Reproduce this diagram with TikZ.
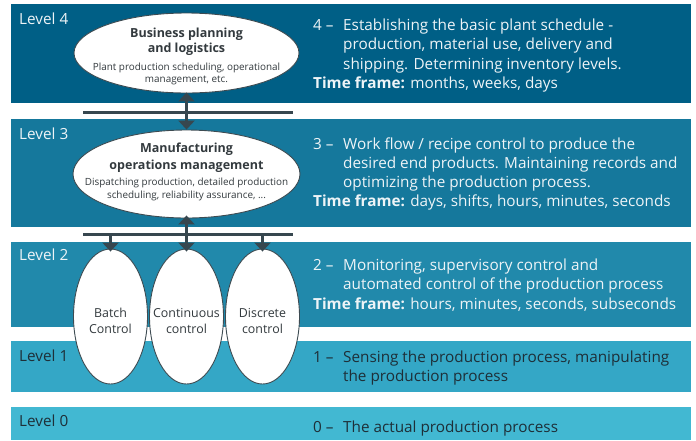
\documentclass[tikz,border=0pt]{standalone}
\usepackage{fontspec}
\setmainfont{Open Sans}
\usetikzlibrary{arrows.meta,shapes.geometric}
\definecolor{lvfour}{HTML}{005F86}
\definecolor{lvthree}{HTML}{15789C}
\definecolor{lvtwo}{HTML}{2189AB}
\definecolor{lvone}{HTML}{34A7C6}
\definecolor{lvzero}{HTML}{42B8D2}
\definecolor{connc}{HTML}{37474F}
\definecolor{ovalline}{HTML}{3D4B52}
\definecolor{lighttext}{HTML}{EEF4F7}
\definecolor{darktext}{HTML}{1E2F38}
\definecolor{ovaltext}{HTML}{333A3E}
\newcommand{\numcol}[1]{\makebox[30pt][l]{#1}}
\newcommand{\indcol}{\hspace*{30pt}}
\begin{document}
\begin{tikzpicture}[x=1pt,y=-1pt,
  lvlab/.style={anchor=base west, inner sep=0, font=\fontsize{15.3}{19.3}\selectfont},
  desc/.style={anchor=base west, inner sep=0, font=\fontsize{15.3}{19.3}\selectfont},
  oval/.style={ellipse, draw=ovalline, line width=0.9pt, fill=white, inner sep=0},
  otitle/.style={anchor=base, inner sep=0, text=ovaltext, font=\fontsize{12.5}{15.5}\selectfont\bfseries},
  osub/.style={anchor=base, inner sep=0, text=ovaltext, font=\fontsize{9.9}{12.5}\selectfont},
  otall/.style={anchor=base, inner sep=0, text=ovaltext, font=\fontsize{12.4}{16}\selectfont},
  conn/.style={draw=connc, line width=3pt},
  tipend/.style={-{Triangle[width=16pt,length=9pt]}},
  tipboth/.style={{Triangle[width=16pt,length=9pt]}-{Triangle[width=16pt,length=9pt]}}
]
\useasboundingbox (0,0) rectangle (696,440);
% bands
\fill[lvfour]  (11,4)   rectangle (691,103);
\fill[lvthree] (11,119) rectangle (691,227);
\fill[lvtwo]   (11,242) rectangle (691,327);
\fill[lvone]   (11,341) rectangle (691,392);
\fill[lvzero]  (11,407) rectangle (691,440);
% level labels
\node[lvlab, text=lighttext] (l4) at (19,24) {Level 4};
\node[lvlab, text=lighttext] (l3) at (19,139) {Level 3};
\node[lvlab, text=lighttext] (l2) at (19,260.5) {Level 2};
\node[lvlab, text=darktext]  (l1) at (19,361) {Level 1};
\node[lvlab, text=darktext]  (l0) at (19,426.5) {Level 0};
% descriptions
\node[desc, text=lighttext] (d4) at (313,30.5) {\begin{tabular}[t]{@{}l@{}}
\numcol{4 –}Establishing the basic plant schedule -\\
\indcol production, material use, delivery and\\
\indcol shipping. Determining inventory levels.\\
\textbf{Time frame:} months, weeks, days\end{tabular}};
\node[desc, text=lighttext] (d3) at (313,149) {\begin{tabular}[t]{@{}l@{}}
\numcol{3 –}Work flow / recipe control to produce the\\
\indcol desired end products. Maintaining records and\\
\indcol optimizing the production process.\\
\textbf{Time frame:} days, shifts, hours, minutes, seconds\end{tabular}};
\node[desc, text=lighttext] (d2) at (313,270.5) {\begin{tabular}[t]{@{}l@{}}
\numcol{2 –}Monitoring, supervisory control and\\
\indcol automated control of the production process\\
\textbf{Time frame:} hours, minutes, seconds, subseconds\end{tabular}};
\node[desc, text=darktext] (d1) at (313,362.5) {\begin{tabular}[t]{@{}l@{}}
\numcol{1 –}Sensing the production process, manipulating\\
\indcol the production process\end{tabular}};
\node[desc, text=darktext] (d0) at (313,432.5) {\numcol{0 –}The actual production process};
% ellipses
\node[oval, minimum width=225pt, minimum height=80pt] (e4) at (186.5,53) {};
\node[oval, minimum width=227pt, minimum height=88pt] (e3) at (186.5,174) {};
\node[oval, minimum width=74pt, minimum height=135pt] (eb) at (110.5,316.5) {};
\node[oval, minimum width=74pt, minimum height=135pt] (ec) at (186.5,316.5) {};
\node[oval, minimum width=74pt, minimum height=135pt] (ed) at (262.5,316.5) {};
% ellipse texts
\node[otitle] (t4a) at (186.5,37.7) {Business planning};
\node[otitle] (t4b) at (186.5,52.7) {and logistics};
\node[osub] (s4a) at (186.5,70) {Plant production scheduling, operational};
\node[osub] (s4b) at (186.5,82.3) {management, etc.};
\node[otitle] (t3a) at (186.5,152.3) {Manufacturing};
\node[otitle] (t3b) at (186.5,169) {operations management};
\node[osub] (s3a) at (186.5,185.7) {Dispatching production, detailed production};
\node[osub] (s3b) at (186.5,198.3) {scheduling, reliability assurance, ...};
\node[otall] (tb1) at (110.5,317.3) {Batch};
\node[otall] (tb2) at (110.5,333.3) {Control};
\node[otall] (tc1) at (186.5,317.3) {Continuous};
\node[otall] (tc2) at (186.5,333.3) {control};
\node[otall] (td1) at (262.5,317.3) {Discrete};
\node[otall] (td2) at (262.5,333.3) {control};
% connectors
\coordinate (b4l) at (83,112);
\coordinate (b4r) at (293,112);
\coordinate (b3l) at (83,234);
\coordinate (b3r) at (293,234);
\coordinate (b3a) at (110.5,234);
\coordinate (b3b) at (186.5,234);
\coordinate (b3c) at (262.5,234);
\draw[conn] (b4l) -- (b4r);
\draw[conn] (b3l) -- (b3r);
\draw[conn, tipboth, shorten <=-1pt] (e4.south) -- (e3.north);
\draw[conn, tipend, shorten >=-3pt] (b3b) -- (e3.south);
\draw[conn, tipend, shorten >=-3pt] (b3a) -- (eb.north);
\draw[conn, tipend, shorten >=-3pt] (b3b) -- (ec.north);
\draw[conn, tipend, shorten >=-3pt] (b3c) -- (ed.north);
\end{tikzpicture}
\end{document}
